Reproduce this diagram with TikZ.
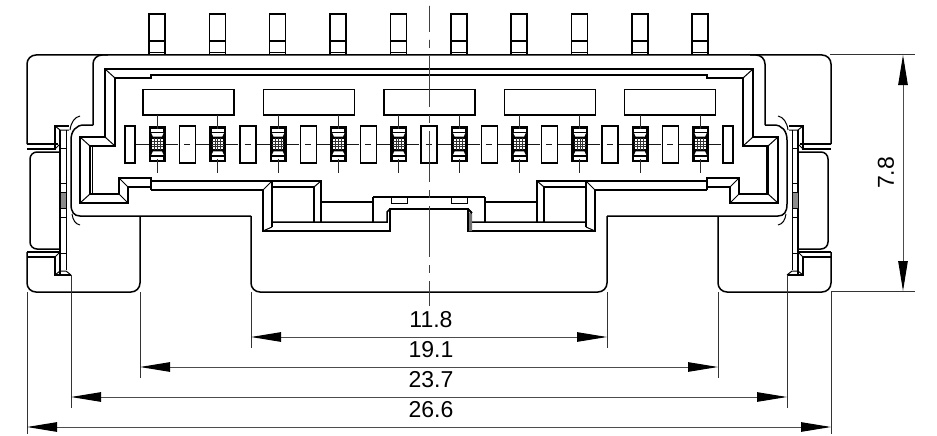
\documentclass[tikz,border=0pt]{standalone}
\usepackage{fontspec}
\setmainfont{Liberation Sans}
\usetikzlibrary{arrows.meta}
\tikzset{
  x=1pt,y=-1pt,
  thick line/.style={line width=1.5pt,line join=miter},
  thin line/.style={line width=1pt},
  heavy line/.style={line width=1.8pt},
  center line/.style={line width=1pt,black!75},
  dim line/.style={line width=1pt,black!70,{Triangle[length=30pt,width=9.5pt,black]}-{Triangle[length=30pt,width=9.5pt,black]}},
  ext line/.style={line width=1pt,black!80},
  dim label/.style={font=\fontsize{23}{25}\selectfont,inner sep=0pt,text=black}
}
\newcommand{\halfbody}{%
  % outer flange, upper
  \draw[thick line,rounded corners=9pt] (27,144) -- (27,55) -- (429,55);
  \draw[thick line,rounded corners=9pt] (93,125) -- (93,55) -- (108,55);
  \draw[thick line] (93,125) -- (84,125)
     .. controls (76,125) and (71,131) .. (71,140) -- (71,204)
     .. controls (71,212) and (74,216) .. (80,216) -- (251,216);
  \draw[thick line,rounded corners=9pt] (251,216) -- (251,292) -- (429,292);
  \draw[thin line] (80,116) .. controls (75,117) and (71,122) .. (70,130);
  \draw[thin line] (80,225) .. controls (75,224) and (73,220) .. (72,214);
  % latch block
  \draw[thick line] (27,144) -- (58,144);
  \draw[thick line] (27,149) -- (55,149) -- (55,126) -- (69,126);
  \draw[thin line] (55,126) -- (60,130) -- (69,130);
  \draw[thick line] (60,130) -- (60,275);
  \draw[thin line] (66,130) -- (66,270);
  \draw[thin line] (55,149) -- (60,144);
  \draw[thin line] (60,148) -- (66,148) (60,253) -- (66,253);
  \draw[thin line] (60,183) -- (66,183) (60,217) -- (66,217);
  \draw[thin line,fill=black!45] (60,192) rectangle (66,208);
  % lower latch
  \draw[thick line] (27,252) -- (60,252);
  \draw[thick line,rounded corners=9pt] (27,252) -- (27,292) -- (140,292) -- (140,216);
  \draw[thick line] (27,257) -- (55,257) -- (55,275) -- (71,275);
  \draw[thin line] (55,257) -- (60,252);
  \draw[thin line] (55,275) -- (60,271) -- (66,271) -- (71,275);
  % middle rounded side
  \draw[thick line,rounded corners=7pt] (60,152) -- (30,152) -- (30,249) -- (60,249);
  % inner frame
  \draw[thick line] (429,69) -- (105,69) -- (105,137) -- (80,137) -- (80,203) -- (128,203) -- (128,187) -- (151,187);
  \draw[thick line] (429,75) -- (151,75) -- (151,78) -- (115,78) -- (115,146) -- (90,146) -- (90,194) -- (119,194) -- (119,178) -- (151,178) -- (151,190);
  \draw[thin line] (105,69) -- (115,78) (105,137) -- (115,146) (80,137) -- (90,146) (80,203) -- (90,194) (119,194) -- (128,203) (119,178) -- (128,187);
  \draw[thin line] (92,146) -- (92,194);
  % bottom wall
  \draw[heavy line] (151,181) -- (272,181) -- (321,181) -- (321,222);
  \draw[heavy line] (151,190) -- (263,190) -- (263,231) -- (390,231) -- (390,209) -- (429,209);
  \draw[thick line] (272,181) -- (272,227);
  \draw[thick line] (272,187) -- (314,187) -- (314,222);
  \draw[thin line] (272,181) -- (263,190) (321,181) -- (314,187) (272,227) -- (263,231);
  \draw[thick line] (272,222) -- (387,222) -- (387,212) -- (390,209);
  \draw[thick line] (321,202) -- (373,202) -- (373,222);
  \draw[thick line] (373,197) -- (429,197);
  \draw[thick line] (373,197) -- (373,202);
  \draw[thin line] (391,197) -- (391,203) -- (407,203) -- (407,197);
}
\newcommand{\termcell}[1]{%
  \begin{scope}[shift={(#1,144)}]
    \fill[black] (-8.5,-18) rectangle (8.5,18);
    \foreach \s in {1,-1}{
      \fill[white] (-6,-15.5*\s) rectangle (6,-12.5*\s);
      \fill[white] (-6,-10.8*\s) -- (6,-10.8*\s) -- (4.5,-7.4*\s) -- (-4.5,-7.4*\s) -- cycle;
    }
    \fill[white] (-5.8,-6) rectangle (5.8,6);
    \draw[line width=.9pt] (-5.8,-5.8) rectangle (5.8,5.8);
    \draw[line width=.7pt,black!80] (-2.8,-5.8) -- (-2.8,5.8) (0,-5.8) -- (0,5.8) (2.8,-5.8) -- (2.8,5.8)
       (-5.8,-2.8) -- (5.8,-2.8) (-5.8,0) -- (5.8,0) (-5.8,2.8) -- (5.8,2.8);
  \end{scope}
}
\begin{document}
\begin{tikzpicture}
\useasboundingbox (0,0) rectangle (937,436);
% top pins
\foreach \i in {0,...,9}{
  \begin{scope}[shift={(157+60.35*\i,0)}]
    \draw[thick line] (-8,55) -- (-8,14) -- (8,14) -- (8,55);
    \draw[thick line] (-8,41) -- (8,41);
    \draw[thick line] (-8,52.5) -- (8,52.5);
  \end{scope}
}
% two mirrored halves
\halfbody
\begin{scope}[shift={(858,0)},xscale=-1]
  \halfbody
\end{scope}
% notch right side shading
\fill[black!55] (468,212) -- (472,214) -- (472,231) -- (468,231) -- cycle;
\draw[thick line] (468,209) -- (472,213);
\draw[thick line] (468,209) -- (468,231);
% windows
\foreach \x in {143,263.7,384,504.3,624.5}
  \draw[thick line] (\x,89.5) rectangle (\x+91,115);
% slots
\draw[thick line] (125,126) rectangle (135,163);
\draw[thick line] (723,126) rectangle (733,163);
\foreach \k in {-4,...,4}
  \draw[thick line] (429+60.35*\k-8,126) rectangle (429+60.35*\k+8,163);
% pin axes
\foreach \k in {-9,-7,...,9}
  \draw[line width=1pt,black!85] (429+30.175*\k,115) -- (429+30.175*\k,173);
\draw[line width=1pt,black!90,dash pattern=on 42pt off 6.2pt on 6pt off 6.15pt] (136,144) -- (722,144);
\foreach \k in {-9,-7,...,9}
  \termcell{429+30.175*\k}
\foreach \k in {-9,-7,...,9}{
  \draw[line width=1pt,black!80] (429+30.175*\k,144-18) -- (429+30.175*\k,144-15);
  \draw[line width=1pt,black!80] (429+30.175*\k,144+15) -- (429+30.175*\k,144+18);
}
% centre line
\draw[center line,dash pattern=on 51pt off 8pt on 8pt off 8pt,dash phase=25pt] (429,6) -- (429,306);
% extension lines
\coordinate (e1a) at (27,292);   \coordinate (e1b) at (27,434);
\coordinate (e2a) at (71,275);   \coordinate (e2b) at (71,408);
\coordinate (e3a) at (140,292);  \coordinate (e3b) at (140,378);
\coordinate (e4a) at (251,292);  \coordinate (e4b) at (251,348);
\coordinate (e5a) at (607,292);  \coordinate (e5b) at (607,348);
\coordinate (e6a) at (718,292);  \coordinate (e6b) at (718,378);
\coordinate (e7a) at (787,275);  \coordinate (e7b) at (787,408);
\coordinate (e8a) at (831,292);  \coordinate (e8b) at (831,434);
\coordinate (e9a) at (830,55);   \coordinate (e9b) at (915,55);
\coordinate (e10a) at (831,291); \coordinate (e10b) at (915,291);
\foreach \n in {1,...,10}
  \draw[ext line] (e\n a) -- (e\n b);
% dimension lines
\coordinate (d1l) at (251,337); \coordinate (d1r) at (607,337);
\coordinate (d2l) at (140,367); \coordinate (d2r) at (718,367);
\coordinate (d3l) at (71,397);  \coordinate (d3r) at (787,397);
\coordinate (d4l) at (27,427);  \coordinate (d4r) at (831,427);
\coordinate (d5t) at (903,55);  \coordinate (d5b) at (903,291);
\draw[dim line] (d1l) -- (d1r);
\draw[dim line] (d2l) -- (d2r);
\draw[dim line] (d3l) -- (d3r);
\draw[dim line] (d4l) -- (d4r);
\draw[dim line] (d5t) -- (d5b);
\node[dim label] (t1) at (431,319.5) {11.8};
\node[dim label] (t2) at (431,349.5) {19.1};
\node[dim label] (t3) at (431,380) {23.7};
\node[dim label] (t4) at (431,410) {26.6};
\node[dim label,rotate=90] (t5) at (886,173) {7.8};
\end{tikzpicture}
\end{document}
